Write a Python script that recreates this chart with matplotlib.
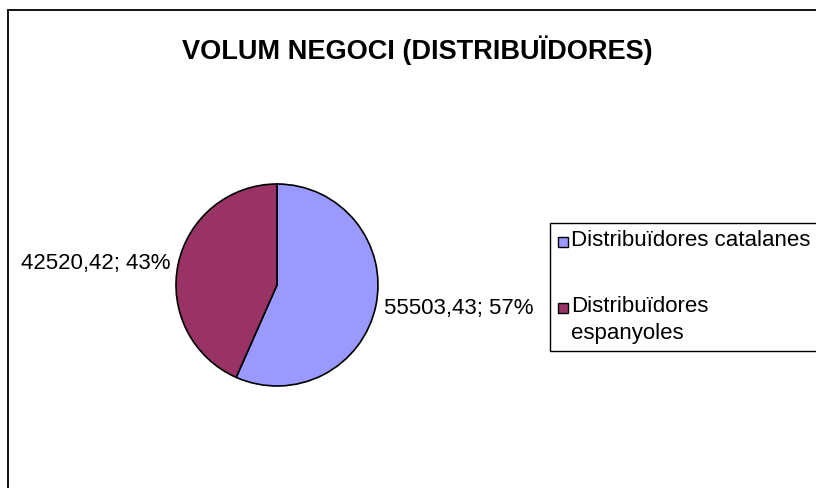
import matplotlib
matplotlib.use("Agg")
import matplotlib.pyplot as plt
from matplotlib.patches import Rectangle

plt.rcParams['font.family'] = ['Liberation Sans', 'DejaVu Sans']

# --- dades ---
title = "VOLUM NEGOCI (DISTRIBUÏDORES)"
categories = ["Distribuïdores catalanes", "Distribuïdores espanyoles"]
legend_labels = ["Distribuïdores catalanes", "Distribuïdores\nespanyoles"]
values = [55503.43, 42520.42]
colors = ["#9999FF", "#993366"]

W, H = 816, 489
fig = plt.figure(figsize=(W / 100, H / 100), dpi=100)


def fx(px):
    return px / W


def fy(py):
    return 1 - py / H


# marc del gràfic (només es veuen els costats esquerre i superior)
fig.add_artist(Rectangle((fx(8), fy(600)), fx(900), fy(11) - fy(600),
                         transform=fig.transFigure, fill=False,
                         edgecolor="black", linewidth=1.3))

fig.text(fx(417), fy(50), title, ha="center", va="center",
         fontsize=19.5, fontweight="bold")

# --- pastís ---
cx, cy, r = 277, 286, 101
ax = fig.add_axes([fx(cx - r), fy(cy + r), fx(2 * r), fy(cy - r) - fy(cy + r)])
total = sum(values)
labels = [f"{v:.2f}".replace(".", ",") + f"; {100 * v / total:.0f}%" for v in values]
wedges, texts = ax.pie(values, colors=colors, startangle=90, counterclock=False,
                       labels=labels, labeldistance=1.08,
                       wedgeprops=dict(edgecolor="black", linewidth=1.2),
                       textprops=dict(fontsize=16))
ax.set_xlim(-1, 1)
ax.set_ylim(-1, 1)
ax.set_aspect("equal")

# --- llegenda ---
fig.add_artist(Rectangle((fx(550), fy(352)), fx(400), fy(224) - fy(352),
                         transform=fig.transFigure, fill=False,
                         edgecolor="black", linewidth=1.0))
baselines = [246, 312]
for lab, col, yb in zip(legend_labels, colors, baselines):
    fig.add_artist(Rectangle((fx(558), fy(yb + 2)), fx(10), fy(yb - 8) - fy(yb + 2),
                             transform=fig.transFigure, facecolor=col,
                             edgecolor="black", linewidth=1.0))
    for i, line in enumerate(lab.split("\n")):
        fig.text(fx(571), fy(yb + 27 * i), line, ha="left", va="baseline",
                 fontsize=16)

fig.savefig("out.png", dpi=100)
